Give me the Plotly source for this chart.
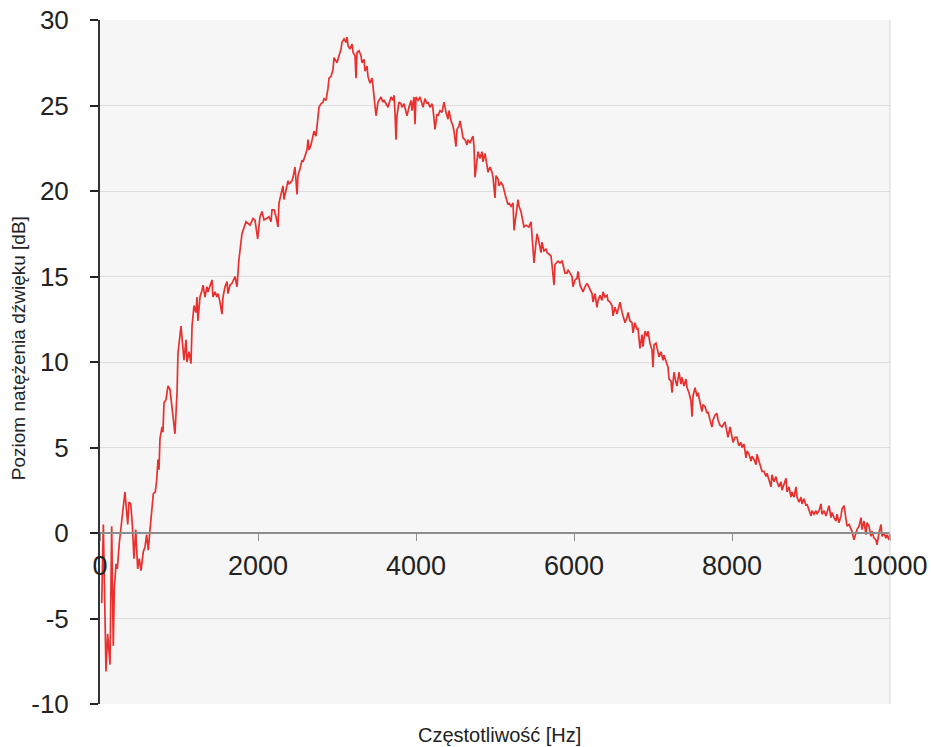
import plotly.graph_objects as go

freq_hz = [
    22, 42, 76, 97, 127, 148, 168, 181, 203, 219, 244, 262, 287, 316, 338, 351, 367, 389, 409, 430,
    452, 465, 477, 497, 519, 548, 570, 591, 611, 633, 654, 675, 700, 718, 734, 747, 759, 785, 797, 810,
    835, 861, 886, 911, 924, 949, 975, 987, 1025, 1038, 1063, 1089, 1101, 1127, 1152, 1165, 1190, 1215, 1228, 1240,
    1266, 1291, 1304, 1329, 1354, 1367, 1392, 1418, 1430, 1456, 1481, 1494, 1519, 1544, 1557, 1582, 1608, 1620, 1646, 1671,
    1709, 1734, 1759, 1797, 1848, 1899, 1937, 1962, 1996, 2025, 2051, 2076, 2114, 2139, 2165, 2177, 2203, 2228, 2253, 2266,
    2291, 2316, 2329, 2354, 2380, 2392, 2430, 2443, 2468, 2494, 2506, 2532, 2557, 2570, 2595, 2620, 2633, 2646, 2671, 2696,
    2709, 2734, 2759, 2772, 2797, 2823, 2835, 2861, 2886, 2899, 2924, 2949, 2962, 2987, 3000, 3025, 3051, 3063, 3089, 3114,
    3127, 3139, 3165, 3190, 3203, 3228, 3241, 3253, 3278, 3304, 3316, 3342, 3354, 3380, 3392, 3418, 3443, 3456, 3481, 3494,
    3519, 3532, 3557, 3582, 3595, 3620, 3646, 3658, 3684, 3709, 3722, 3734, 3747, 3759, 3785, 3810, 3823, 3848, 3873, 3886,
    3911, 3937, 3949, 3975, 3987, 4000, 4025, 4051, 4076, 4089, 4114, 4139, 4152, 4177, 4203, 4215, 4241, 4266, 4278, 4304,
    4329, 4342, 4354, 4380, 4405, 4418, 4443, 4468, 4481, 4506, 4519, 4544, 4557, 4582, 4595, 4620, 4646, 4658, 4684, 4709,
    4722, 4734, 4747, 4772, 4785, 4810, 4835, 4848, 4873, 4899, 4911, 4937, 4962, 4975, 5000, 5013, 5038, 5051, 5076, 5101,
    5114, 5139, 5165, 5177, 5203, 5228, 5241, 5266, 5291, 5304, 5329, 5354, 5367, 5392, 5418, 5430, 5456, 5468, 5494, 5519,
    5532, 5557, 5582, 5595, 5620, 5646, 5658, 5684, 5709, 5721, 5747, 5759, 5785, 5797, 5823, 5848, 5861, 5886, 5911, 5924,
    5949, 5975, 5987, 6013, 6038, 6051, 6076, 6101, 6114, 6139, 6165, 6177, 6203, 6228, 6241, 6266, 6291, 6304, 6329, 6354,
    6367, 6392, 6418, 6430, 6456, 6481, 6494, 6519, 6544, 6557, 6582, 6608, 6620, 6646, 6671, 6684, 6709, 6734, 6747, 6772,
    6797, 6810, 6835, 6861, 6873, 6899, 6924, 6937, 6962, 6987, 7000, 7013, 7038, 7063, 7076, 7101, 7127, 7139, 7165, 7190,
    7203, 7228, 7241, 7266, 7291, 7304, 7329, 7354, 7367, 7392, 7418, 7430, 7456, 7481, 7494, 7506, 7532, 7557, 7570, 7595,
    7620, 7633, 7658, 7684, 7696, 7722, 7747, 7759, 7785, 7810, 7823, 7848, 7873, 7886, 7911, 7937, 7949, 7975, 8000, 8013,
    8038, 8063, 8076, 8089, 8114, 8127, 8152, 8177, 8190, 8215, 8241, 8253, 8278, 8304, 8316, 8342, 8367, 8380, 8405, 8430,
    8443, 8468, 8494, 8506, 8532, 8557, 8570, 8595, 8620, 8633, 8658, 8684, 8696, 8721, 8747, 8759, 8785, 8810, 8823, 8848,
    8873, 8886, 8911, 8937, 8949, 8975, 9000, 9013, 9038, 9063, 9076, 9101, 9127, 9139, 9165, 9190, 9203, 9228, 9253, 9266,
    9291, 9316, 9329, 9354, 9380, 9392, 9418, 9443, 9456, 9481, 9506, 9519, 9544, 9570, 9582, 9608, 9633, 9646, 9671, 9696,
    9709, 9734, 9759, 9772, 9797, 9823, 9835, 9861, 9886, 9899, 9924, 9949, 9962, 9987, 10000,
]

level_db = [
    -4.1, 0.5, -8.1, -5.9, -7.7, 0.4, -6.6, -3.3, -1.8, -2.1, -0.6, 0.3, 1.2, 2.4, 1.3, 0.5, 1.8, 1.7, 0.5, -1.5,
    0.2, -0.8, -2.1, -1.5, -2.2, -1.1, -0.8, -0.1, -1.0, 0.2, 1.5, 2.3, 2.4, 3.1, 4.3, 3.7, 5.5, 6.2, 5.9, 7.6,
    7.8, 8.6, 8.4, 7.4, 6.8, 5.8, 8.2, 10.5, 12.1, 11.3, 10.1, 11.3, 10.0, 10.6, 9.9, 12.1, 13.3, 12.9, 13.8, 12.4,
    13.8, 14.2, 14.5, 13.8, 14.4, 14.1, 14.5, 14.8, 13.8, 14.1, 13.8, 14.0, 13.5, 12.8, 13.8, 14.4, 14.7, 14.0, 14.5, 14.6,
    15.0, 14.4, 16.0, 17.5, 18.2, 18.0, 18.4, 18.3, 17.2, 18.5, 18.8, 18.3, 18.4, 18.5, 18.2, 18.9, 18.9, 18.5, 17.9, 19.3,
    19.8, 20.3, 19.5, 20.1, 20.6, 20.4, 20.6, 20.8, 21.4, 19.8, 20.9, 21.3, 21.8, 21.7, 22.0, 22.4, 23.0, 22.4, 22.7, 23.2,
    23.5, 23.2, 24.2, 24.9, 25.1, 25.2, 25.4, 25.3, 26.0, 26.6, 26.7, 27.1, 27.8, 27.6, 27.5, 27.9, 28.3, 28.7, 28.9, 28.7,
    29.0, 28.5, 28.3, 28.6, 28.1, 27.9, 26.6, 28.1, 28.2, 27.9, 27.5, 27.7, 27.0, 27.3, 26.7, 26.3, 26.6, 26.1, 25.2, 24.4,
    25.2, 25.3, 25.5, 25.2, 25.3, 25.1, 24.9, 25.1, 25.5, 25.3, 25.6, 24.6, 23.0, 24.4, 25.2, 25.1, 24.9, 25.1, 24.7, 24.4,
    24.9, 25.3, 24.7, 25.5, 23.9, 25.5, 25.3, 25.5, 25.1, 24.9, 25.4, 25.1, 25.2, 24.9, 25.1, 24.8, 23.6, 24.5, 24.4, 24.7,
    24.6, 24.9, 25.2, 24.6, 24.2, 24.7, 24.1, 23.8, 23.5, 22.6, 23.6, 23.8, 24.1, 23.5, 23.1, 23.0, 22.7, 23.0, 22.8, 23.1,
    23.2, 22.6, 20.8, 21.8, 22.3, 21.9, 22.3, 21.7, 22.2, 21.5, 21.1, 21.4, 21.1, 20.8, 19.6, 20.9, 20.7, 20.3, 20.5, 20.3,
    20.0, 19.6, 19.2, 19.3, 19.1, 19.3, 17.7, 18.8, 19.5, 19.1, 18.8, 18.2, 17.9, 18.0, 17.9, 17.9, 18.2, 17.3, 15.8, 17.0,
    17.5, 17.0, 16.4, 17.0, 16.5, 16.6, 16.4, 16.3, 16.2, 15.7, 14.5, 15.7, 15.8, 15.9, 15.8, 15.9, 15.7, 15.2, 15.2, 15.4,
    15.2, 15.0, 14.4, 14.8, 14.9, 15.3, 14.5, 14.2, 14.1, 14.4, 14.6, 14.5, 14.2, 14.0, 13.5, 14.0, 13.2, 13.6, 13.9, 13.6,
    14.1, 13.8, 13.9, 13.6, 13.5, 13.3, 12.7, 13.2, 12.8, 13.1, 13.5, 12.9, 12.7, 12.3, 12.6, 12.9, 12.4, 12.3, 11.7, 12.3,
    11.9, 12.0, 10.8, 11.6, 10.9, 11.8, 11.5, 11.8, 11.1, 10.7, 9.7, 11.0, 11.1, 10.6, 10.3, 10.6, 10.1, 10.4, 10.0, 9.7,
    9.0, 8.9, 8.2, 9.4, 8.8, 8.6, 9.4, 8.7, 9.1, 8.6, 9.0, 8.5, 8.2, 7.7, 6.8, 8.0, 8.5, 8.0, 8.2, 7.7,
    7.1, 7.5, 7.4, 7.0, 7.1, 6.6, 6.2, 6.6, 6.9, 7.0, 6.6, 6.3, 6.2, 6.3, 6.5, 5.9, 5.6, 6.2, 5.6, 5.3,
    5.6, 5.6, 5.3, 5.1, 5.3, 5.0, 5.2, 4.4, 4.8, 4.6, 4.2, 4.5, 4.3, 4.0, 4.6, 4.2, 3.9, 3.6, 3.6, 3.3,
    3.5, 3.1, 2.7, 3.4, 3.0, 3.3, 3.0, 2.7, 3.0, 2.5, 2.8, 3.2, 2.4, 2.7, 2.1, 2.4, 2.1, 2.7, 2.1, 1.8,
    2.1, 1.7, 2.0, 1.6, 1.7, 1.4, 1.0, 1.3, 1.1, 1.3, 1.1, 1.3, 1.7, 1.1, 1.3, 1.0, 1.2, 1.6, 0.9, 1.2,
    0.9, 0.7, 1.1, 0.6, 1.0, 1.4, 1.6, 0.8, 0.4, 0.5, 0.2, 0.1, -0.4, 0.1, 0.2, 0.4, 0.9, 0.2, 0.7, -0.1,
    0.6, 0.4, -0.2, 0.1, -0.3, -0.4, -0.7, 0.0, 0.5, -0.2, 0.0, -0.3, -0.1, -0.4, 0.0,
]

x_ticks = [0, 2000, 4000, 6000, 8000, 10000]
x_tick_labels = ["0", "2000", "4000", "6000", "8000", "10000"]
y_ticks = [-10, -5, 0, 5, 10, 15, 20, 25, 30]
y_tick_labels = ["-10", "-5", "0", "5", "10", "15", "20", "25", "30"]

x_title = "Częstotliwość [Hz]"
y_title = "Poziom natężenia dźwięku [dB]"

FONT = "Liberation Sans, Arial, Helvetica, sans-serif"

fig = go.Figure()
fig.add_trace(go.Scatter(
    x=freq_hz, y=level_db, mode="lines",
    line=dict(color="#e8312f", width=1.7),
    showlegend=False, hoverinfo="x+y",
))

fig.update_layout(
    width=931, height=747,
    margin=dict(l=100, r=41, t=20, b=43, autoexpand=False),
    paper_bgcolor="white",
    plot_bgcolor="#f6f6f6",
    font=dict(family=FONT, color="#222222"),
    xaxis=dict(
        range=[0, 10000], tickvals=x_ticks, ticktext=x_tick_labels,
        anchor="free", position=0.25, automargin=False,
        showgrid=False, zeroline=False,
        showline=True, linecolor="#8c8c8c", linewidth=1.5,
        ticks="outside", ticklen=7, tickwidth=1, tickcolor="#8c8c8c",
        tickfont=dict(size=27, family=FONT, color="#222222"),
        ticklabelstandoff=2,
    ),
    yaxis=dict(
        range=[-10, 30], tickvals=y_ticks, ticktext=y_tick_labels,
        automargin=False,
        showgrid=True, gridcolor="#dddddd", gridwidth=1,
        zeroline=False,
        showline=True, linecolor="#333333", linewidth=2,
        ticks="outside", ticklen=8, tickwidth=2, tickcolor="#222222",
        tickfont=dict(size=26, family=FONT, color="#222222"),
        ticklabelstandoff=16,
    ),
    shapes=[dict(type="line", xref="paper", yref="paper", x0=1, x1=1, y0=0, y1=1,
                 line=dict(color="#d6d6d6", width=1))],
    annotations=[
        dict(text=x_title, xref="paper", yref="paper", x=0.506, y=-0.045,
             xanchor="center", yanchor="middle", showarrow=False,
             font=dict(size=20, family=FONT, color="#222222")),
        dict(text=y_title, xref="paper", yref="paper", x=-0.104, y=0.52,
             xanchor="center", yanchor="middle", showarrow=False, textangle=-90,
             font=dict(size=19, family=FONT, color="#222222")),
    ],
)

fig.write_html(
    "out.html",
    config={"displayModeBar": False},
    post_script="document.body.style.margin='0';document.body.style.padding='0';document.body.style.overflow='hidden';",
)
